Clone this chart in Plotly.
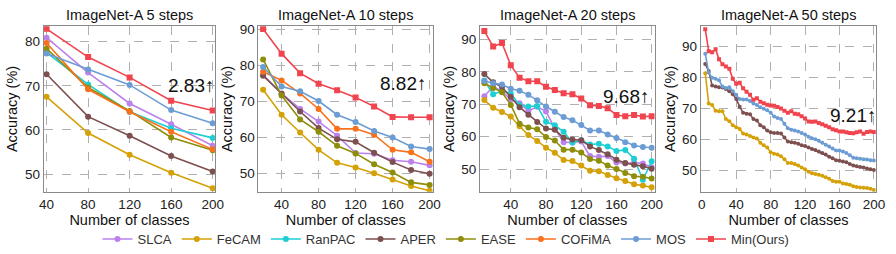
import plotly.graph_objects as go

W, H = 896, 254

methods = ["SLCA", "FeCAM", "RanPAC", "APER", "EASE", "COFiMA", "MOS", "Min(Ours)"]
colors = ["#BC82EC", "#D4A106", "#1DCFD4", "#7D4F4F", "#8E8E0B", "#F9711C", "#6C9CD4", "#F0444F"]
symbols = ["circle"] * 7 + ["square"]

titles = ["ImageNet-A 5 steps", "ImageNet-A 10 steps", "ImageNet-A 20 steps", "ImageNet-A 50 steps"]
gains = ["2.83↑", "8.82↑", "9.68↑", "9.21↑"]

# ---- 5 steps ----
classes_5 = [40, 80, 120, 160, 200]
slca_5 = [80.9, 73.0, 66.0, 61.3, 56.4]
fecam_5 = [67.5, 59.3, 54.4, 50.3, 46.8]
ranpac_5 = [77.5, 70.3, 64.1, 60.4, 58.2]
aper_5 = [72.6, 63.0, 58.7, 54.1, 50.6]
ease_5 = [78.4, 69.6, 64.3, 58.3, 55.4]
cofima_5 = [79.7, 69.2, 64.1, 59.6, 55.6]
mos_5 = [77.3, 73.7, 70.2, 64.5, 61.5]
min_5 = [82.9, 76.5, 71.9, 66.6, 64.4]

# ---- 10 steps ----
classes_10 = [20, 40, 60, 80, 100, 120, 140, 160, 180, 200]
slca_10 = [77.3, 72.2, 67.9, 64.4, 60.5, 55.7, 55.5, 53.7, 53.3, 52.3]
fecam_10 = [73.2, 66.3, 61.4, 56.6, 53.0, 51.7, 50.1, 48.4, 46.6, 45.3]
aper_10 = [77.1, 72.1, 67.2, 62.6, 59.5, 58.8, 55.8, 53.2, 51.0, 50.0]
ease_10 = [81.6, 71.6, 65.0, 61.6, 57.7, 55.6, 52.6, 50.3, 47.6, 46.9]
cofima_10 = [78.2, 75.8, 72.2, 67.9, 62.4, 62.4, 60.8, 56.6, 55.9, 53.3]
mos_10 = [79.5, 74.1, 72.8, 70.1, 66.3, 64.3, 61.8, 60.0, 57.5, 56.8]
min_10 = [90.0, 83.2, 77.8, 74.9, 73.1, 71.1, 68.6, 65.7, 65.6, 65.6]

# ---- 20 steps ----
classes_20 = [10, 20, 30, 40, 50, 60, 70, 80, 90, 100,
              110, 120, 130, 140, 150, 160, 170, 180, 190, 200]
slca_20 = [72.5, 75.5, 74.0, 71.5, 70.3, 68.0, 69.2, 67.8, 62.5, 58.3,
           58.2, 58.5, 54.0, 53.8, 54.0, 52.0, 51.7, 52.0, 51.7, 50.6]
fecam_20 = [71.3, 68.9, 67.6, 66.2, 63.2, 60.5, 58.7, 56.6, 55.0, 52.8,
            52.5, 51.1, 49.5, 49.3, 48.2, 47.2, 46.3, 45.3, 44.9, 44.4]
ranpac_20 = [77.3, 73.1, 74.1, 73.3, 69.7, 69.3, 69.5, 64.6, 63.5, 61.5,
             58.2, 58.9, 57.6, 57.8, 57.0, 55.6, 55.9, 53.2, 46.7, 52.4]
aper_20 = [79.3, 76.8, 75.3, 72.3, 69.1, 66.8, 64.5, 62.5, 62.1, 59.7,
           59.1, 58.9, 57.0, 55.9, 54.6, 52.9, 51.9, 51.3, 50.9, 50.1]
ease_20 = [76.5, 75.0, 73.7, 69.8, 64.0, 62.8, 62.3, 59.9, 58.8, 56.0,
           56.0, 55.1, 53.1, 52.6, 51.1, 50.0, 48.8, 47.8, 47.6, 47.1]
mos_20 = [77.2, 76.5, 76.1, 74.8, 74.2, 72.9, 71.2, 69.3, 67.7, 66.1,
          65.1, 63.6, 61.9, 61.9, 60.7, 59.6, 58.3, 57.3, 56.8, 56.6]
min_20 = [92.6, 87.8, 88.9, 82.0, 78.2, 77.1, 77.1, 75.4, 74.4, 73.4,
          73.1, 71.8, 69.7, 69.5, 68.8, 66.7, 66.3, 66.7, 66.2, 66.3]

# ---- 50 steps ----
classes_50 = [4, 8, 12, 16, 20, 24, 28, 32, 36, 40,
              44, 48, 52, 56, 60, 64, 68, 72, 76, 80,
              84, 88, 92, 96, 100, 104, 108, 112, 116, 120,
              124, 128, 132, 136, 140, 144, 148, 152, 156, 160,
              164, 168, 172, 176, 180, 184, 188, 192, 196, 200]
fecam_50 = [81.3, 71.5, 71.0, 69.2, 69.0, 69.0, 66.5, 65.8, 64.5, 63.8,
            63.3, 61.8, 61.5, 61.0, 60.5, 60.2, 58.8, 58.0, 57.3, 55.8,
            55.3, 55.0, 54.5, 53.5, 52.3, 52.3, 52.0, 51.5, 50.8, 50.3,
            49.5, 49.0, 48.7, 48.5, 48.2, 47.7, 47.2, 46.5, 46.2, 46.2,
            45.7, 45.5, 45.3, 44.8, 44.5, 44.4, 44.3, 44.2, 44.0, 43.6]
aper_50 = [84.3, 82.0, 77.3, 77.0, 76.8, 76.7, 76.2, 75.5, 74.5, 73.0,
           70.5, 68.5, 68.2, 68.0, 66.5, 66.0, 64.5, 63.8, 62.8, 62.2,
           62.0, 62.0, 61.8, 60.5, 59.2, 59.0, 58.8, 58.5, 58.0, 57.8,
           57.3, 56.8, 56.5, 56.0, 55.5, 55.0, 54.3, 53.8, 53.2, 53.0,
           52.8, 52.5, 52.0, 51.5, 51.2, 51.0, 50.8, 50.5, 50.3, 50.0]
mos_50 = [87.6, 81.5, 79.8, 79.5, 79.0, 77.0, 76.5, 76.8, 75.5, 74.3,
          73.0, 72.8, 72.8, 72.3, 71.5, 71.0, 70.3, 69.8, 69.3, 68.5,
          67.3, 66.8, 66.5, 65.0, 63.5, 63.0, 62.8, 62.5, 62.0, 61.5,
          60.8, 60.3, 60.0, 59.5, 58.8, 58.2, 57.6, 57.0, 56.3, 56.3,
          56.0, 55.5, 54.8, 54.0, 53.8, 53.7, 53.5, 53.4, 53.2, 53.1]
min_50 = [95.5, 88.4, 88.1, 89.0, 85.8, 84.2, 83.5, 82.7, 79.5, 77.9,
          78.2, 76.4, 75.3, 74.3, 72.7, 73.2, 72.1, 71.6, 71.1, 70.9,
          70.8, 70.4, 69.9, 69.2, 68.5, 69.0, 68.2, 68.0, 67.4, 66.7,
          65.7, 65.6, 65.7, 65.2, 64.8, 64.3, 63.8, 63.2, 62.9, 62.5,
          62.5, 62.2, 62.0, 61.9, 62.2, 62.5, 61.7, 62.3, 62.5, 62.3]

panels = [
    (classes_5, {"SLCA": slca_5, "FeCAM": fecam_5, "RanPAC": ranpac_5, "APER": aper_5,
                 "EASE": ease_5, "COFiMA": cofima_5, "MOS": mos_5, "Min(Ours)": min_5}),
    (classes_10, {"SLCA": slca_10, "FeCAM": fecam_10, "APER": aper_10, "EASE": ease_10,
                  "COFiMA": cofima_10, "MOS": mos_10, "Min(Ours)": min_10}),
    (classes_20, {"SLCA": slca_20, "FeCAM": fecam_20, "RanPAC": ranpac_20, "APER": aper_20,
                  "EASE": ease_20, "MOS": mos_20, "Min(Ours)": min_20}),
    (classes_50, {"FeCAM": fecam_50, "APER": aper_50, "MOS": mos_50, "Min(Ours)": min_50}),
]

# layout geometry (pixels)
x_dom_px = [(39.5, 213.3), (257.5, 435.0), (482.5, 660.0), (707.0, 884.7)]
y_top_px, y_bot_px = 22.7, 192.3
x_ranges = [[37.4, 202.2], [15.0, 203.9], [5.0, 203.4], [-1.0, 202.3]]
y_ranges = [[46.0, 83.5], [45.0, 90.8], [43.0, 94.1], [43.0, 96.5]]
x_ticks = [[40, 80, 120, 160, 200], [40, 80, 120, 160, 200],
           [40, 80, 120, 160, 200], [0, 40, 80, 120, 160, 200]]
y_ticks = [[50, 60, 70, 80], [50, 60, 70, 80, 90], [50, 60, 70, 80, 90], [50, 60, 70, 80, 90]]
gain_pos = [(214.0, 83.5), (430.0, 81.7), (656.5, 95.0), (887.0, 114.0)]

FONT = "Liberation Sans, Arial, sans-serif"
fig = go.Figure()

for p, (xs, series) in enumerate(panels):
    ax = "" if p == 0 else str(p + 1)
    for m, c, s in zip(methods, colors, symbols):
        if m not in series:
            continue
        many = len(xs) > 20
        fig.add_trace(go.Scatter(
            x=xs, y=series[m], name=m, mode="lines+markers",
            line=dict(color=c, width=1.6),
            marker=dict(symbol=s, size=(4 if many else 6), color=c),
            legendgroup=m, showlegend=(p == 0),
            xaxis="x" + ax, yaxis="y" + ax,
        ))

for p in range(4):
    ax = "" if p == 0 else str(p + 1)
    x0, x1 = x_dom_px[p]
    common = dict(showline=True, linecolor="#8a8a8a", linewidth=1.2, mirror=True,
                  showgrid=True, gridcolor="#b0b0b0", griddash="dash", gridwidth=1,
                  zeroline=False, ticks="", tickfont=dict(size=13.5, color="#222", family=FONT))
    fig.update_layout(**{
        "xaxis" + ax: dict(domain=[x0 / W, x1 / W], range=x_ranges[p], tickvals=x_ticks[p],
                           anchor="y" + ax,
                           title=dict(text="Number of classes", font=dict(size=14.5, color="#111", family=FONT), standoff=3),
                           **common),
        "yaxis" + ax: dict(domain=[1 - y_bot_px / H, 1 - y_top_px / H], range=y_ranges[p],
                           tickvals=y_ticks[p], anchor="x" + ax,
                           title=dict(text="Accuracy (%)", font=dict(size=14.5, color="#111", family=FONT), standoff=3),
                           **common),
    })
    fig.add_annotation(x=(x0 + x1) / 2 / W, y=1 - 11.5 / H, xref="paper", yref="paper",
                       text=titles[p], showarrow=False, xanchor="center", yanchor="middle",
                       font=dict(size=14.5, color="#111", family=FONT))
    gx, gy = gain_pos[p]
    fig.add_annotation(x=gx / W, y=1 - gy / H, xref="paper", yref="paper",
                       text=gains[p], showarrow=False, xanchor="right", yanchor="middle",
                       font=dict(size=19, color="#111", family=FONT))

fig.update_layout(
    width=W, height=H,
    margin=dict(l=0, r=0, t=0, b=0),
    paper_bgcolor="white", plot_bgcolor="white",
    font=dict(family=FONT, color="#222"),
    legend=dict(orientation="h", x=0.5, xanchor="center", y=1 - 241 / H, yanchor="middle",
                font=dict(size=13, color="#333", family=FONT), itemwidth=30,
                tracegroupgap=0, bgcolor="rgba(0,0,0,0)"),
    showlegend=True,
)

fig.write_html("out.html", config={"displayModeBar": False},
               post_script="document.body.style.margin='0';document.body.style.padding='0';")
